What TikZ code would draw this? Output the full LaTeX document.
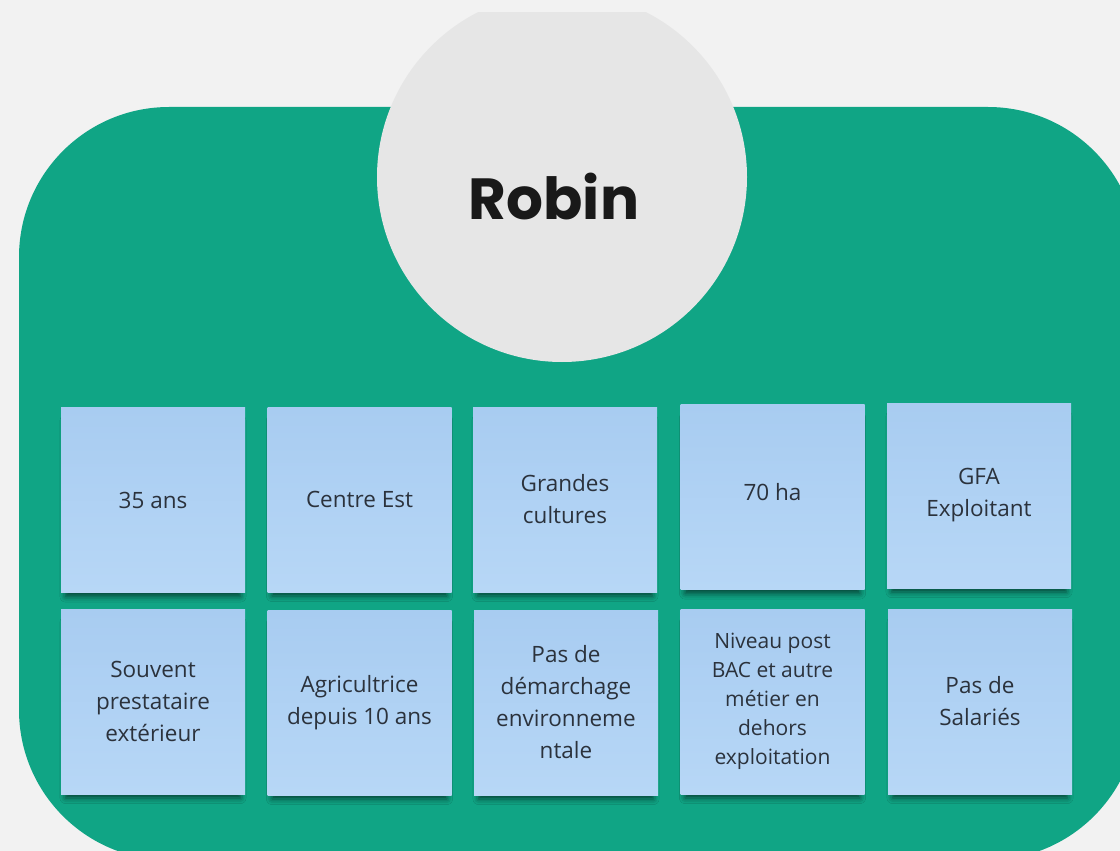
\documentclass[tikz,border=0pt]{standalone}
\usepackage{fontspec}
\setmainfont{Open Sans}
\newfontfamily\robinfont{Poppins}
\usetikzlibrary{shadows.blur}
\definecolor{bgc}{HTML}{F2F2F2}
\definecolor{greenc}{HTML}{10A585}
\definecolor{circc}{HTML}{E6E6E6}
\definecolor{notetop}{HTML}{A8CCF1}
\definecolor{notebot}{HTML}{B7D7F6}
\definecolor{txtc}{HTML}{2B323C}
\tikzset{
  stickynote/.style={minimum width=184pt, minimum height=185pt, inner sep=0pt,
    top color=notetop, bottom color=notebot, align=center, text=txtc,
    font=\fontsize{22.5}{32}\selectfont,
    blur shadow={shadow xshift=0pt, shadow yshift=-9pt, shadow scale=0.95,
      shadow blur radius=6pt, shadow opacity=60}},
  smallnote/.style={stickynote, font=\fontsize{21}{29}\selectfont}
}
\begin{document}
\begin{tikzpicture}[x=1pt,y=-1pt]
\useasboundingbox (0,0) rectangle (1120,851);
\fill[bgc] (0,0) rectangle (1120,851);
\begin{scope}
\clip (0,13) rectangle (1120,851);
\fill[greenc, rounded corners=150pt] (19,107) rectangle (1138,860);
\node[circle, fill=circc, minimum size=370pt, inner sep=0pt] (head) at (562,177) {};
\end{scope}
\node[font=\robinfont\bfseries\fontsize{58}{60}\selectfont, text=black!90] (name) at (554,197) {Robin};
% row 1
\node[stickynote] (n1) at (153,500) {35 ans};
\node[stickynote] (n2) at (359.5,499.5) {Centre Est};
\node[stickynote] (n3) at (565,499.5) {Grandes\\cultures};
\node[stickynote] (n4) at (772.5,497) {70 ha\\[-22pt]\mbox{}};
\node[stickynote] (n5) at (979,495.5) {GFA\\Exploitant};
% row 2
\node[stickynote] (n6) at (153,701.5) {Souvent\\prestataire\\extérieur};
\node[stickynote] (n7) at (359.5,702.5) {Agricultrice\\depuis 10 ans};
\node[stickynote] (n8) at (566,702.5) {Pas de\\démarchage\\environneme\\ntale};
\node[smallnote] (n9) at (772.5,701.5) {Niveau post\\BAC et autre\\métier en\\dehors\\exploitation};
\node[stickynote] (n10) at (980,701.5) {Pas de\\Salariés};
\end{tikzpicture}
\end{document}
